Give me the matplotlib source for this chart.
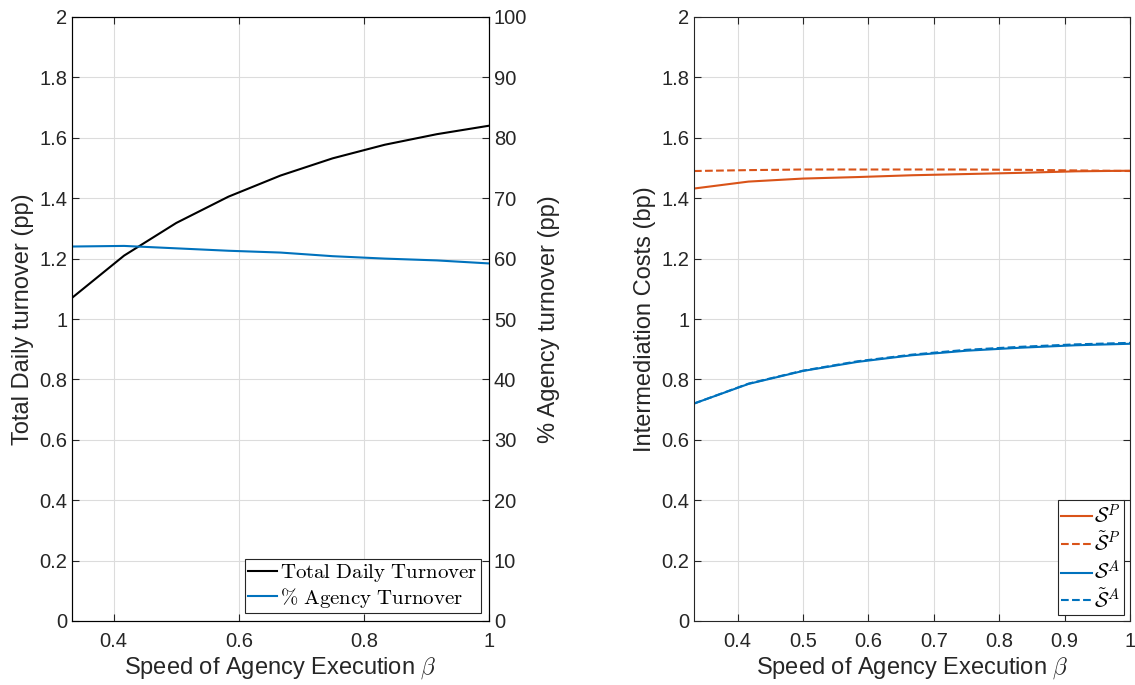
import matplotlib.pyplot as plt
import numpy as np

plt.rcParams['font.family'] = ['Liberation Sans', 'DejaVu Sans']
plt.rcParams['mathtext.fontset'] = 'cm'

# speed of agency execution
beta = [1/3, 5/12, 0.5, 7/12, 2/3, 0.75, 5/6, 11/12, 1.0]

# left panel
total_turnover = [1.07, 1.21, 1.318, 1.405, 1.475, 1.532, 1.577, 1.612, 1.64]
agency_pct = [62.0, 62.1, 61.7, 61.3, 61.0, 60.4, 60.0, 59.7, 59.2]

# right panel
S_P = [1.432, 1.455, 1.465, 1.47, 1.476, 1.48, 1.484, 1.489, 1.491]
S_P_tilde = [1.49, 1.493, 1.495, 1.495, 1.495, 1.495, 1.494, 1.492, 1.49]
S_A = [0.72, 0.785, 0.828, 0.858, 0.88, 0.895, 0.905, 0.913, 0.918]
S_A_tilde = [0.72, 0.786, 0.829, 0.86, 0.882, 0.898, 0.908, 0.916, 0.921]

blue = (0, 0.447, 0.741)
orange = (0.85, 0.325, 0.098)
dark = '#262626'

fig = plt.figure(figsize=(11.35, 6.85), dpi=100)
ax1 = fig.add_axes([72/1135, 1 - 621/685, (489-72)/1135, (621-17)/685])
ax2 = fig.add_axes([694/1135, 1 - 621/685, (1130-694)/1135, (621-17)/685])

def style(ax):
    ax.set_xlim(1/3, 1)
    ax.set_ylim(0, 2)
    ax.set_yticks(np.arange(0, 2.01, 0.2))
    ax.set_yticklabels(['0', '0.2', '0.4', '0.6', '0.8', '1', '1.2', '1.4', '1.6', '1.8', '2'])
    ax.grid(True, color='#dcdcdc', linewidth=0.8)
    ax.set_axisbelow(True)
    ax.tick_params(direction='in', labelsize=14.5, length=5, colors=dark)
    ax.tick_params(axis='x', pad=8)
    for s in ax.spines.values():
        s.set_color(dark)
        s.set_linewidth(0.8)
    ax.set_xlabel(r'Speed of Agency Execution $\beta$', fontsize=17, color=dark, labelpad=3)

# left panel
style(ax1)
ax1.set_xticks([0.4, 0.6, 0.8, 1.0])
ax1.set_xticklabels(['0.4', '0.6', '0.8', '1'])
ax1.tick_params(axis='x', top=True)
l1, = ax1.plot(beta, total_turnover, color='black', linewidth=1.5)
ax1.set_ylabel('Total Daily turnover (pp)', fontsize=17, color=dark, labelpad=4)

ax1r = ax1.twinx()
ax1r.set_ylim(0, 100)
ax1r.set_yticks(np.arange(0, 101, 10))
ax1r.tick_params(direction='in', labelsize=14.5, length=5, colors=dark)
l2, = ax1r.plot(beta, agency_pct, color=blue, linewidth=1.5)
ax1r.set_ylabel('% Agency turnover (pp)', fontsize=17, color=dark, labelpad=8)

leg1 = ax1.legend([l1, l2], [r'$\mathrm{Total\ Daily\ Turnover}$', r'$\mathrm{\%\ Agency\ Turnover}$'],
                  loc='lower right', fontsize=15, fancybox=False, framealpha=1,
                  edgecolor=dark, handlelength=1.4, handletextpad=0.15,
                  borderpad=0.15, labelspacing=0.05, borderaxespad=0.4)
leg1.get_frame().set_linewidth(0.8)

# right panel
style(ax2)
ax2.set_xticks(np.arange(0.4, 1.01, 0.1))
ax2.set_xticklabels(['0.4', '0.5', '0.6', '0.7', '0.8', '0.9', '1'])
ax2.tick_params(top=True, right=True)
ax2.plot(beta, S_P, color=orange, linewidth=1.5, label=r'$\mathcal{S}^P$')
ax2.plot(beta, S_P_tilde, color=orange, linewidth=1.5, linestyle='--', label=r'$\tilde{\mathcal{S}}^P$')
ax2.plot(beta, S_A, color=blue, linewidth=1.5, label=r'$\mathcal{S}^A$')
ax2.plot(beta, S_A_tilde, color=blue, linewidth=1.5, linestyle='--', label=r'$\tilde{\mathcal{S}}^A$')
ax2.set_ylabel('Intermediation Costs (bp)', fontsize=17, color=dark, labelpad=4)
leg2 = ax2.legend(loc='lower right', fontsize=15, fancybox=False, framealpha=1,
                  edgecolor=dark, handlelength=1.5, handletextpad=0.1,
                  borderpad=0.15, labelspacing=0.2, borderaxespad=0.3)
leg2.get_frame().set_linewidth(0.8)

fig.savefig('out.png', dpi=100)
